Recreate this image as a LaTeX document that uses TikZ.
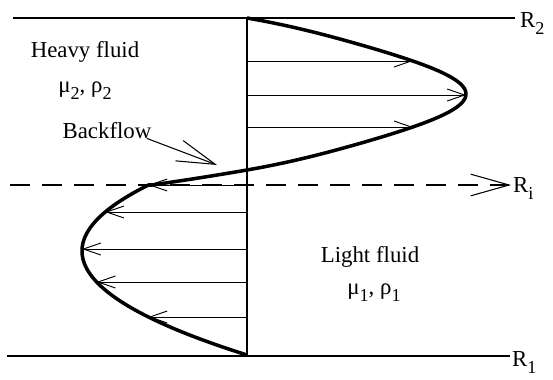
\documentclass[tikz,border=0pt]{standalone}
\usepackage{fontspec}
\setmainfont{Liberation Serif}
\usepackage{tikz}
\usetikzlibrary{arrows.meta,positioning,calc}
\newcommand{\lowsub}[1]{\raisebox{-6pt}{\fontsize{15.5}{15.5}\selectfont #1}}

\tikzset{
  wall/.style={line width=1.1pt},
  axisline/.style={line width=0.9pt},
  profile/.style={line width=3pt, line join=round},
  flow/.style={line width=0.8pt, -{Straight Barb[length=0.52cm, width=0.36cm, line width=0.8pt]}},
  bigbarb/.style={line width=0.9pt, -{Straight Barb[length=1.15cm, width=0.65cm, line width=0.9pt]}},
  iface/.style={line width=1.2pt, dash pattern=on 0.6cm off 0.36cm},
  txt/.style={font=\fontsize{19.5}{23}\selectfont, inner sep=0pt}
}

\begin{document}
\begin{tikzpicture}[x=0.03cm, y=-0.03cm,
    declare function={sq(\y)=((\y-94)/76)*((\y-94)/76);
                      heavyu(\y)=219*(1-sq(\y))*(1-0.44*sq(\y)*(1-sq(\y)));
                      lightu(\y)=-165+0.01526*(\y-251)*(\y-251);}]
  \useasboundingbox (0,0) rectangle (553,379);
  % walls and axis
  \coordinate (topL) at (13,18);
  \coordinate (topR) at (515,18);
  \coordinate (botL) at (7,356);
  \coordinate (botR) at (510,356);
  \coordinate (ifL) at (10,185);
  \coordinate (ritip) at (511,185);
  \coordinate (axtop) at (247,18);
  \coordinate (axbot) at (247,355);
  \draw[wall] (topL) -- (topR);
  \draw[wall] (botL) -- (botR);
  \draw[axisline] (axtop) -- (axbot);
  \draw[iface, bigbarb] (ifL) -- (ritip);
  \node[txt, anchor=base west] (r2) at (520,27) {R\lowsub{2}};
  \node[txt, anchor=base west] (ri) at (513,192) {R\lowsub{i}};
  \node[txt, anchor=base west] (r1) at (512,366) {R\lowsub{1}};

  % velocity profile
  \draw[profile] plot[domain=18:170, samples=90] ({247+heavyu(\x)}, \x)
    -- plot[domain=170:185, samples=10] ({247+219*(1-sq(\x))}, \x)
    -- plot[domain=185:355, samples=90] ({247+lightu(\x)}, \x);
  \foreach \yy in {61,95,127}
    \draw[flow] (247,\yy) -- ({247+heavyu(\yy)}, \yy);
  \foreach \yy in {185,212,249,282,317}
    \draw[flow] (247,\yy) -- ({247+lightu(\yy)}, \yy);

  % labels
  \node[txt, anchor=base] (heavy) at (85,57) {Heavy fluid};
  \node[txt, anchor=base] (heavyprop) at (85,92) {μ\lowsub{2}, ρ\lowsub{2}};
  \node[txt, anchor=base] (light) at (370,262) {Light fluid};
  \node[txt, anchor=base] (lightprop) at (374,294) {μ\lowsub{1}, ρ\lowsub{1}};
  \node[txt, anchor=base] (bf) at (107,138) {Backflow};
  \coordinate (bftip) at (217,165);
  \draw[bigbarb] ([xshift=-4]bf.south east) -- (bftip);
\end{tikzpicture}
\end{document}
